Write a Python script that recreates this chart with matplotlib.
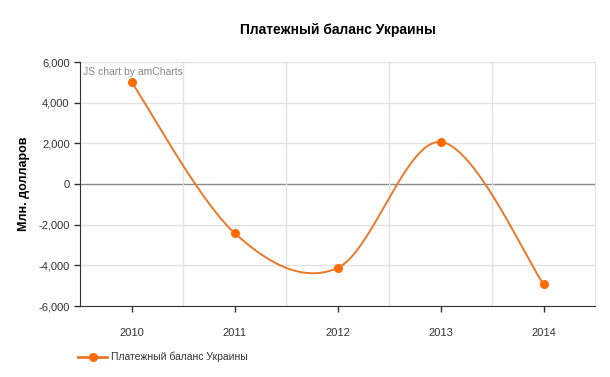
import numpy as np
import matplotlib
matplotlib.use("Agg")
import matplotlib.pyplot as plt
from matplotlib.ticker import FuncFormatter

plt.rcParams['font.family'] = ['Liberation Sans', 'DejaVu Sans']

years = ["2010", "2011", "2012", "2013", "2014"]
balance = [5020, -2410, -4130, 2070, -4920]
title = "Платежный баланс Украины"
y_label = "Млн. долларов"
y_ticks = [-6000, -4000, -2000, 0, 2000, 4000, 6000]

line_color = "#E8782A"
marker_color = "#FF6A00"


def smooth(xs, ys, n=40):
    # catmull-rom style curve through the points (endpoints duplicated)
    xs = np.asarray(xs, float)
    ys = np.asarray(ys, float)
    px = np.concatenate([[xs[0]], xs, [xs[-1]]])
    py = np.concatenate([[ys[0]], ys, [ys[-1]]])
    out_x, out_y = [], []
    for i in range(1, len(px) - 2):
        t = np.linspace(0, 1, n)
        h00 = 2 * t**3 - 3 * t**2 + 1
        h10 = t**3 - 2 * t**2 + t
        h01 = -2 * t**3 + 3 * t**2
        h11 = t**3 - t**2
        for p, out in ((px, out_x), (py, out_y)):
            m1 = (p[i + 1] - p[i - 1]) / 2
            m2 = (p[i + 2] - p[i]) / 2
            out.extend(h00 * p[i] + h10 * m1 + h01 * p[i + 1] + h11 * m2)
    return np.array(out_x), np.array(out_y)


fig = plt.figure(figsize=(6.1, 3.77), dpi=100)
ax = fig.add_axes([80 / 610, 71 / 377, 515 / 610, 244 / 377])

x = np.arange(len(years))
sx, sy = smooth(x, balance)
ax.plot(sx, sy, color=line_color, lw=1.4, zorder=3)
ax.plot(x, balance, "o", color=marker_color, ms=5.5, zorder=4)

ax.set_xlim(-0.5, len(years) - 0.5)
ax.set_ylim(-6000, 6000)
ax.set_yticks(y_ticks)
ax.yaxis.set_major_formatter(FuncFormatter(lambda v, p: f"{int(v):,}"))
ax.set_xticks(x)
ax.set_xticklabels(years)

# grid
for yv in y_ticks:
    if yv == 0:
        ax.axhline(yv, color="#8a8a8a", lw=1, zorder=1)
    else:
        ax.axhline(yv, color="#e2e2e2", lw=1, zorder=1)
for xv in np.arange(0.5, len(years) - 0.5, 1):
    ax.axvline(xv, color="#e2e2e2", lw=1, zorder=1)

ax.spines["top"].set_visible(False)
ax.spines["right"].set_color("#e2e2e2")
ax.spines["left"].set_color("#333333")
ax.spines["bottom"].set_color("#333333")
ax.tick_params(axis="both", labelsize=8, colors="#333333", length=4, width=1)
ax.tick_params(axis="x", pad=12)

ax.set_ylabel(y_label, fontsize=9, fontweight="bold", labelpad=6)
fig.text(338 / 610, 1 - 30 / 377, title, ha="center", va="center",
         fontsize=10, fontweight="bold", color="#000000")
fig.text(83 / 610, 1 - 72 / 377, "JS chart by amCharts", ha="left",
         va="center", fontsize=7.5, color="#888888")

# legend
lx, ly = 78 / 610, 1 - 357 / 377
fig.add_artist(plt.Line2D([lx, lx + 29 / 610], [ly, ly], color=line_color,
                          lw=2, transform=fig.transFigure))
fig.add_artist(plt.Line2D([lx + 14.5 / 610], [ly], marker="o", color=marker_color,
                          ms=5.5, transform=fig.transFigure))
fig.text(lx + 33 / 610, ly, title, ha="left", va="center", fontsize=7.5,
         color="#333333")

fig.savefig("out.png", dpi=100)
